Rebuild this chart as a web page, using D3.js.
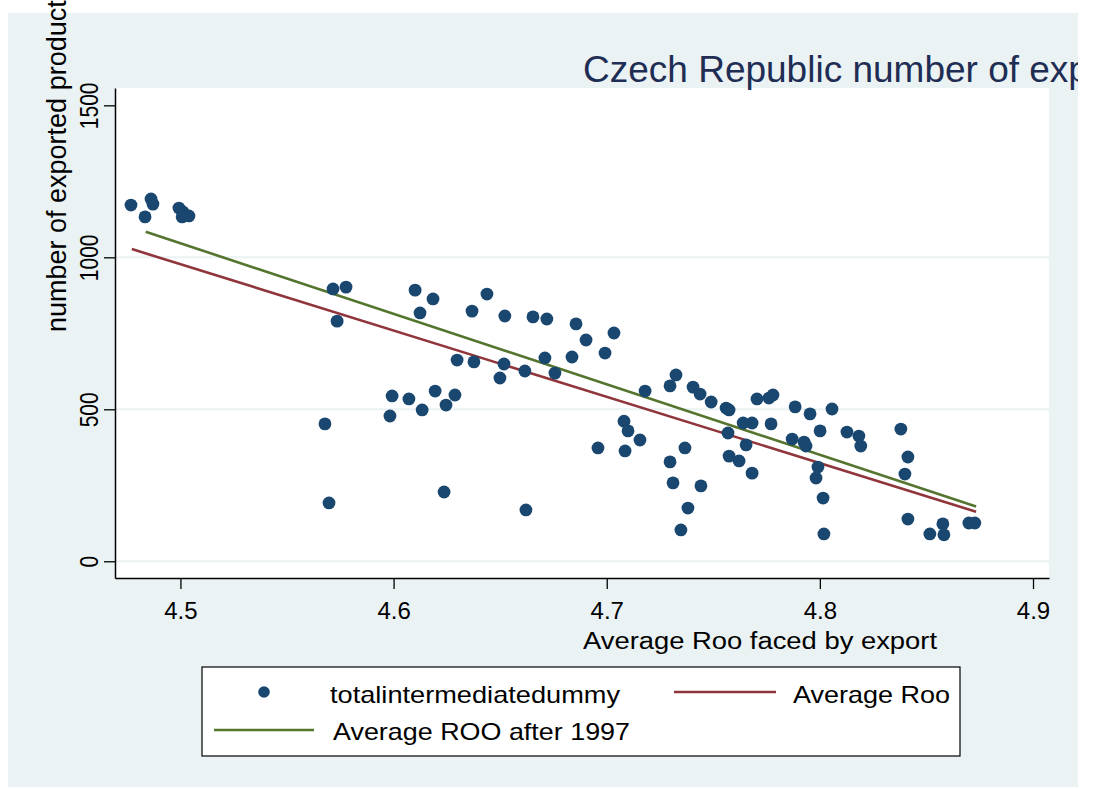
<!DOCTYPE html>
<html>
<head>
<meta charset="utf-8">
<title>Czech Republic number of exported products</title>
<script src="https://cdn.jsdelivr.net/npm/d3@7"></script>
<style>
  body { margin: 0; background: #ffffff; }
  svg text { font-family: "Liberation Sans", Arial, sans-serif; }
</style>
</head>
<body>
<svg id="chart"></svg>
<script>
// data
const roo = [
  4.4768, 4.4834, 4.4862, 4.4871, 4.4993, 4.5012, 4.5008, 4.5040,
  4.5716, 4.5777, 4.5735, 4.5678, 4.5697, 4.5993, 4.5983, 4.6072,
  4.6134, 4.6101, 4.6124, 4.6185, 4.6195, 4.6246, 4.6288, 4.6237,
  4.6298, 4.6368, 4.6377, 4.6438, 4.6499, 4.6518, 4.6522, 4.6616,
  4.6621, 4.6654, 4.6710, 4.6719, 4.6757, 4.6837, 4.6856, 4.6903,
  4.6992, 4.7034, 4.6959, 4.7081, 4.7100, 4.7086, 4.7156, 4.7180,
  4.7297, 4.7325, 4.7405, 4.7438, 4.7490, 4.7560, 4.7574, 4.7367,
  4.7297, 4.7311, 4.7442, 4.7381, 4.7348, 4.7569, 4.7574, 4.7621,
  4.7640, 4.7682, 4.7654, 4.7682, 4.7705, 4.7761, 4.7780, 4.7771,
  4.7884, 4.7954, 4.8057, 4.7870, 4.7926, 4.7935, 4.8001, 4.7991,
  4.7982, 4.8015, 4.8019, 4.8127, 4.8183, 4.8192, 4.8380, 4.8413,
  4.8399, 4.8413, 4.8516, 4.8577, 4.8582, 4.8699, 4.8727
];
const products = [
  1172, 1133, 1192, 1175, 1162, 1149, 1133, 1136,
  896, 902, 790, 452, 192, 544, 478, 534,
  498, 892, 817, 863, 560, 514, 547, 228,
  662, 823, 656, 879, 603, 649, 807, 626,
  169, 804, 669, 797, 619, 672, 781, 728,
  685, 751, 373, 461, 429, 363, 399, 560,
  577, 613, 573, 550, 524, 504, 498, 373,
  327, 258, 248, 175, 103, 422, 346, 330,
  455, 455, 383, 290, 534, 537, 547, 452,
  508, 485, 501, 402, 392, 379, 429, 310,
  274, 208, 90, 425, 412, 379, 435, 343,
  287, 139, 90, 123, 87, 126, 126
];

// fitted lines, end points
const fitRooX = [4.4772, 4.8733];
const fitRooY = [1027, 163];
const fitAfterX = [4.4837, 4.8733];
const fitAfterY = [1084, 180];

const xTicks = [4.5, 4.6, 4.7, 4.8, 4.9];
const yTicks = [0, 500, 1000, 1500];
const yGrid = [0, 500, 1000];

// layout constants
const w = 1093;
const h = 789;
const plot = { left: 115, right: 1049, top: 88, bottom: 578 };

const navy = "#1a476f";
const maroon = "#90353b";
const olive = "#55752f";
const bg = "#eaf2f3";

const x = d3.scaleLinear()
  .domain([4.4693, 4.9075])
  .range([plot.left, plot.right]);

const y = d3.scaleLinear()
  .domain([-55, 1557])
  .range([plot.bottom, plot.top]);

const svg = d3.select("#chart")
  .attr("width", w)
  .attr("height", h);

// the source picture is cut off on the right
svg.append("clipPath")
  .attr("id", "crop")
  .append("rect")
  .attr("x", 0).attr("y", 0)
  .attr("width", 1078).attr("height", h);

const g = svg.append("g").attr("clip-path", "url(#crop)");

g.append("rect")
  .attr("x", 8).attr("y", 13)
  .attr("width", 1070).attr("height", 774)
  .attr("fill", bg);

g.append("rect")
  .attr("x", plot.left).attr("y", plot.top)
  .attr("width", plot.right - plot.left)
  .attr("height", plot.bottom - plot.top)
  .attr("fill", "#ffffff");

// grid lines
g.selectAll("line.grid")
  .data(yGrid)
  .enter()
  .append("line")
  .attr("class", "grid")
  .attr("x1", plot.left).attr("x2", plot.right)
  .attr("y1", d => y(d)).attr("y2", d => y(d))
  .attr("stroke", bg)
  .attr("stroke-width", 2);

// fitted lines
const line = d3.line()
  .x(d => x(d[0]))
  .y(d => y(d[1]));

g.append("path")
  .datum(d3.zip(fitRooX, fitRooY))
  .attr("d", line)
  .attr("fill", "none")
  .attr("stroke", maroon)
  .attr("stroke-width", 2.6);

g.append("path")
  .datum(d3.zip(fitAfterX, fitAfterY))
  .attr("d", line)
  .attr("fill", "none")
  .attr("stroke", olive)
  .attr("stroke-width", 2.6);

// scatter
g.selectAll("circle.pt")
  .data(d3.zip(roo, products))
  .enter()
  .append("circle")
  .attr("class", "pt")
  .attr("cx", d => x(d[0]))
  .attr("cy", d => y(d[1]))
  .attr("r", 6.4)
  .attr("fill", navy);

// x axis
const xAxis = g.append("g")
  .attr("transform", `translate(0,${plot.bottom})`)
  .call(d3.axisBottom(x).tickValues(xTicks).tickSize(11).tickSizeOuter(0)
    .tickFormat(d3.format(".1f")));
xAxis.select(".domain").attr("stroke", "#000").attr("stroke-width", 1.5);
xAxis.selectAll(".tick line").attr("stroke", "#000").attr("stroke-width", 1.3);
xAxis.selectAll(".tick text")
  .attr("y", 41).attr("dy", 0)
  .attr("fill", "#000")
  .style("font-size", "24px");

// y axis, labels turned like the source
const yAxis = g.append("g")
  .attr("transform", `translate(${plot.left},0)`)
  .call(d3.axisLeft(y).tickValues(yTicks).tickSize(11).tickSizeOuter(0)
    .tickFormat(d3.format("d")));
yAxis.select(".domain").attr("stroke", "#000").attr("stroke-width", 1.5);
yAxis.selectAll(".tick line").attr("stroke", "#000").attr("stroke-width", 1.3);
yAxis.selectAll(".tick text")
  .attr("x", 0).attr("y", -14.2).attr("dy", 0)
  .attr("transform", "rotate(-90) scale(1,1.2)")
  .attr("text-anchor", "middle")
  .attr("fill", "#000")
  .style("font-size", "21px");

// axis titles
g.append("text")
  .attr("x", 583).attr("y", 649)
  .attr("textLength", 354)
  .attr("lengthAdjust", "spacingAndGlyphs")
  .style("font-size", "23px")
  .text("Average Roo faced by export");

g.append("text")
  .attr("transform", "translate(65.5,332) rotate(-90)")
  .style("font-size", "27px")
  .text("number of exported products");

// title
g.append("text")
  .attr("x", 583).attr("y", 82)
  .attr("fill", "#1f2d54")
  .style("font-size", "37px")
  .text("Czech Republic number of exported products");

// legend
const legend = g.append("g");
legend.append("rect")
  .attr("x", 202).attr("y", 667)
  .attr("width", 758).attr("height", 89)
  .attr("fill", "#ffffff")
  .attr("stroke", "#000")
  .attr("stroke-width", 1.2);

legend.append("circle")
  .attr("cx", 264).attr("cy", 692)
  .attr("r", 5.8)
  .attr("fill", navy);
legend.append("text")
  .attr("x", 330).attr("y", 703)
  .attr("textLength", 290)
  .attr("lengthAdjust", "spacingAndGlyphs")
  .style("font-size", "24px")
  .text("totalintermediatedummy");

legend.append("line")
  .attr("x1", 674).attr("x2", 776)
  .attr("y1", 692).attr("y2", 692)
  .attr("stroke", maroon).attr("stroke-width", 2.6);
legend.append("text")
  .attr("x", 793).attr("y", 703)
  .attr("textLength", 157)
  .attr("lengthAdjust", "spacingAndGlyphs")
  .style("font-size", "24px")
  .text("Average Roo");

legend.append("line")
  .attr("x1", 214).attr("x2", 314)
  .attr("y1", 730).attr("y2", 730)
  .attr("stroke", olive).attr("stroke-width", 2.6);
legend.append("text")
  .attr("x", 333).attr("y", 740)
  .attr("textLength", 297)
  .attr("lengthAdjust", "spacingAndGlyphs")
  .style("font-size", "24px")
  .text("Average ROO after 1997");
</script>
</body>
</html>
